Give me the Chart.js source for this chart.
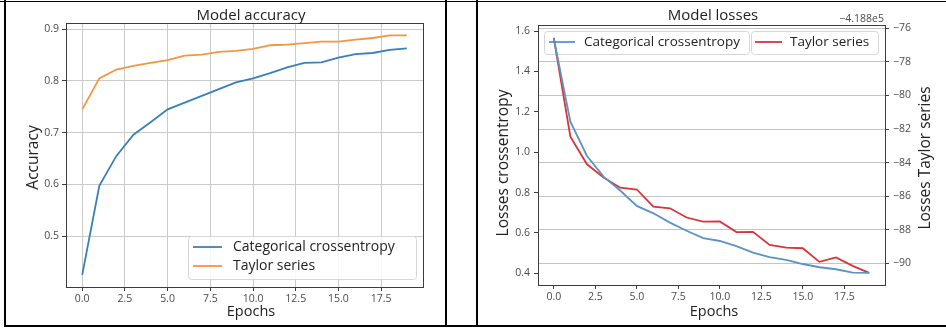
<!DOCTYPE html>
<html><head><meta charset="utf-8">
<script src="https://cdn.jsdelivr.net/npm/chart.js@4"></script>
<style>
html,body{margin:0;padding:0;background:#fff;}
body{width:946px;height:329px;position:relative;overflow:hidden;}
canvas{position:absolute;top:0;}
.ln{position:absolute;background:#000;z-index:5;}
</style></head><body>
<canvas id="acc" width="446" height="329" style="left:0"></canvas>
<canvas id="loss" width="468" height="329" style="left:478px"></canvas>
<div class="ln" style="left:0;top:1px;width:946px;height:1px"></div>
<div class="ln" style="left:4px;top:325px;width:942px;height:2px"></div>
<div class="ln" style="left:4px;top:0;width:2px;height:327px"></div>
<div class="ln" style="left:445px;top:0;width:2px;height:327px"></div>
<div class="ln" style="left:476px;top:0;width:2px;height:327px"></div>
<script>
// ---------- data ----------
const epochs = [0,1,2,3,4,5,6,7,8,9,10,11,12,13,14,15,16,17,18,19];
const accCrossentropy = [0.425,0.597,0.655,0.696,0.720,0.745,0.758,0.771,0.784,0.797,0.805,0.815,0.826,0.835,0.836,0.845,0.852,0.854,0.860,0.863];
const accTaylor = [0.745,0.805,0.822,0.829,0.835,0.840,0.849,0.851,0.856,0.858,0.862,0.869,0.870,0.873,0.876,0.876,0.880,0.883,0.888,0.888];
const lossCrossentropy = [1.564,1.151,0.981,0.879,0.810,0.734,0.697,0.651,0.611,0.574,0.560,0.535,0.502,0.480,0.466,0.446,0.430,0.420,0.403,0.402];
// Taylor-series losses, shown relative to the axis offset -4.188e5
const lossTaylorOffset = [-76.56,-82.45,-84.10,-84.89,-85.49,-85.60,-86.62,-86.72,-87.27,-87.51,-87.50,-88.14,-88.12,-88.90,-89.06,-89.10,-89.91,-89.65,-90.15,-90.57];
const taylorOffsetText = '\u22124.188e5';
const xTicks = [0,2.5,5,7.5,10,12.5,15,17.5];
const accYTicks = [0.5,0.6,0.7,0.8,0.9];
const lossYTicks = [0.4,0.6,0.8,1.0,1.2,1.4,1.6];
const lossY2Ticks = [-90,-88,-86,-84,-82,-80,-78,-76];
const seriesNames = ['Categorical crossentropy','Taylor series'];

// ---------- styling ----------
const FONT = "'Open Sans', sans-serif";
Chart.defaults.font.family = FONT;
const minus = v => String(v).replace('-', '\u2212');
const pts = ys => ys.map((y,i)=>({x:epochs[i], y}));
const fixedTicks = arr => s => { s.ticks = arr.map(v=>({value:v})); };

const decor = {
  id:'decor',
  beforeDatasetsDraw(chart, args, o){
    const ctx = chart.ctx;
    ctx.save();
    for (const lg of (o.legends||[])) {
      const [bx,by,bw,bh] = lg.box;
      ctx.beginPath();
      ctx.roundRect(bx+0.5,by+0.5,bw,bh,3);
      ctx.fillStyle='rgba(255,255,255,0.85)';
      ctx.fill();
      ctx.strokeStyle='#d6d6d6'; ctx.lineWidth=1; ctx.stroke();
      for (const it of lg.items) {
        const ds = chart.data.datasets[it.ds];
        ctx.strokeStyle = ds.borderColor; ctx.lineWidth = ds.borderWidth;
        ctx.beginPath(); ctx.moveTo(bx+it.h1, by+it.y); ctx.lineTo(bx+it.h2, by+it.y); ctx.stroke();
        ctx.fillStyle='#222'; ctx.font = lg.size+'px '+FONT;
        ctx.textAlign='left'; ctx.textBaseline='middle';
        ctx.fillText(ds.label, bx+it.tx, by+it.y+0.5);
      }
    }
    ctx.restore();
  },
  afterDraw(chart, args, o){
    const {ctx, chartArea:a} = chart;
    ctx.save();
    ctx.strokeStyle='#3c3c3c'; ctx.lineWidth=1;
    ctx.strokeRect(Math.round(a.left)+0.5, Math.round(a.top)+0.5, Math.round(a.right-a.left), Math.round(a.bottom-a.top));
    for (const t of (o.texts||[])) {
      ctx.save();
      ctx.fillStyle = t.color || '#222';
      ctx.font = t.size+'px '+FONT;
      ctx.textAlign = t.align || 'center';
      ctx.textBaseline = 'alphabetic';
      ctx.translate(t.x, t.y);
      if (t.rot) ctx.rotate(-Math.PI/2);
      ctx.fillText(t.text, 0, 0);
      ctx.restore();
    }
    ctx.restore();
  }
};

function xScale(height, gridOn, gridColor){
  return {
    type:'linear', min:-0.95, max:19.95, bounds:'data',
    afterBuildTicks: fixedTicks(xTicks),
    afterFit: s => { s.height = height; },
    ticks:{callback:v=>v.toFixed(1), autoSkip:false, maxRotation:0, minRotation:0, padding:2, color:'#4a4a4a', font:{size:10.5}},
    grid:{drawOnChartArea:gridOn, color:gridColor, lineWidth:1, tickLength:4, tickColor:'#3c3c3c', tickWidth:1},
    border:{display:false}
  };
}

new Chart(document.getElementById('acc'), {
  type:'line',
  data:{datasets:[
    {label:seriesNames[0], data:pts(accCrossentropy), borderColor:'#3a7fba', borderWidth:1.8},
    {label:seriesNames[1], data:pts(accTaylor), borderColor:'#f59540', borderWidth:1.8}
  ]},
  options:{
    responsive:false, animation:false, events:[],
    layout:{padding:{left:0,right:23,top:23,bottom:0}},
    elements:{point:{radius:0}, line:{tension:0, fill:false}},
    scales:{
      x: xScale(42, true, '#cacaca'),
      y: {
        type:'linear', min:0.4015, max:0.912, bounds:'data',
        afterBuildTicks: fixedTicks(accYTicks),
        afterFit: s => { s.width = 66; },
        ticks:{callback:v=>v.toFixed(1), padding:3, color:'#4a4a4a', font:{size:10.5}},
        grid:{color:'#cacaca', lineWidth:1, tickLength:4, tickColor:'#3c3c3c', tickWidth:1},
        border:{display:false}
      }
    },
    plugins:{
      legend:{display:false}, tooltip:{enabled:false},
      decor:{
        texts:[
          {text:'Model accuracy', x:251, y:19.5, size:15},
          {text:'Epochs', x:251, y:316, size:14.5},
          {text:'Accuracy', x:37.5, y:157.5, size:15.5, rot:true}
        ],
        legends:[{box:[188,236,228,43], size:14, items:[
          {ds:0, h1:5, h2:34, tx:45, y:11},
          {ds:1, h1:5, h2:34, tx:45, y:30}
        ]}]
      }
    }
  },
  plugins:[decor]
});

new Chart(document.getElementById('loss'), {
  type:'line',
  data:{datasets:[
    {label:seriesNames[0], data:pts(lossCrossentropy), borderColor:'#5b93c4', borderWidth:1.8, yAxisID:'y'},
    {label:seriesNames[1], data:pts(lossTaylorOffset), borderColor:'#d9343a', borderWidth:1.8, yAxisID:'y2'}
  ]},
  options:{
    responsive:false, animation:false, events:[],
    layout:{padding:{left:0,right:0,top:25,bottom:0}},
    elements:{point:{radius:0}, line:{tension:0, fill:false}},
    scales:{
      x: xScale(44, false, '#c4c4c4'),
      y: {
        type:'linear', position:'left', min:0.342, max:1.630, bounds:'data',
        afterBuildTicks: fixedTicks(lossYTicks),
        afterFit: s => { s.width = 60; },
        ticks:{callback:v=>v.toFixed(1), padding:4, color:'#4a4a4a', font:{size:10.5}},
        grid:{drawOnChartArea:false, tickLength:4, tickColor:'#3c3c3c', tickWidth:1},
        border:{display:false}
      },
      y2: {
        type:'linear', position:'right', min:-91.29, max:-75.80, bounds:'data',
        afterBuildTicks: fixedTicks(lossY2Ticks),
        afterFit: s => { s.width = 61; },
        ticks:{callback:v=>minus(v), padding:4, color:'#4a4a4a', font:{size:10.5}},
        grid:{drawOnChartArea:true, color:'#c4c4c4', lineWidth:1, tickLength:4, tickColor:'#3c3c3c', tickWidth:1},
        border:{display:false}
      }
    },
    plugins:{
      legend:{display:false}, tooltip:{enabled:false},
      decor:{
        texts:[
          {text:'Model losses', x:235, y:19.5, size:15},
          {text:'Epochs', x:236, y:316, size:14.5},
          {text:'Losses crossentropy', x:29.5, y:163, size:15.5, rot:true},
          {text:'Losses Taylor series', x:452, y:158, size:15.5, rot:true},
          {text:taylorOffsetText, x:406, y:22, size:10.5, align:'right', color:'#4a4a4a'}
        ],
        legends:[
          {box:[66,31,205,23], size:13.5, items:[{ds:0, h1:5, h2:31, tx:40, y:11}]},
          {box:[273,31,127,23], size:13.5, items:[{ds:1, h1:4, h2:31, tx:39, y:11}]}
        ]
      }
    }
  },
  plugins:[decor]
});
</script>
</body></html>
